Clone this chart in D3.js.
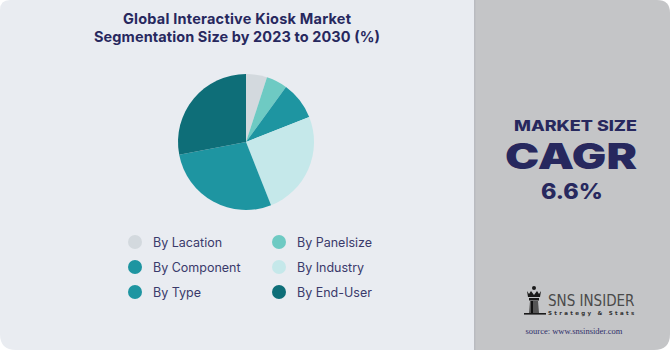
<!DOCTYPE html>
<html><head><meta charset="utf-8">
<script src="https://cdn.jsdelivr.net/npm/d3@7"></script>
<style>html,body{margin:0;padding:0;background:#fff;}svg{display:block;}</style>
</head><body>
<script>
const categories = ["By Lacation","By Panelsize","By Component","By Industry","By Type","By End-User"];
const values = [5, 5, 9, 25, 28, 28];
const colors = ["#d3d9de","#6ecac3","#1e95a1","#c5e8ea","#1e95a1","#0e6e78"];
const titleLines = ["Global Interactive Kiosk Market","Segmentation Size by 2023 to 2030 (%)"];
const cagrLabel = ["MARKET SIZE","CAGR","6.6%"];

const W=670,H=350;
const svg=d3.select("body").append("svg").attr("width",W).attr("height",H);
const navy="#27285e";

// left panel
svg.append("path").attr("fill","#e9ecf1")
  .attr("d",`M0,10 Q0,0 10,0 L480,0 L480,${H} L16,${H} Q0,${H} 0,${H-16} Z`);
// right panel
svg.append("path").attr("fill","#c4c5c7")
  .attr("d",`M474,0 L657,0 Q670,0 670,13 L670,${H-16} Q670,${H} 654,${H} L474,${H} Z`);
svg.append("rect").attr("x",474).attr("y",0).attr("width",1.5).attr("height",H).attr("fill","#b9bbc0");

// title
const t=svg.append("text").attr("text-anchor","middle").attr("fill",navy)
  .style("font-family","Inter, Lato, sans-serif").style("font-weight","700").style("font-size","14.5px");
const tl=[228,286];
titleLines.forEach((l,i)=>t.append("tspan").attr("x",237).attr("y",24+i*17.5)
  .attr("textLength",tl[i]).attr("lengthAdjust","spacing").text(l));

// pie
const cx=246,cy=142,r=68;
const pie=d3.pie().sort(null).value(d=>d)(values);
const arc=d3.arc().innerRadius(0).outerRadius(r);
svg.append("g").attr("transform",`translate(${cx},${cy})`)
  .selectAll("path").data(pie).join("path")
  .attr("d",arc).attr("fill",(d,i)=>colors[i]);

// legend
const lg=svg.append("g");
categories.forEach((c,i)=>{
  const col=i%2,row=Math.floor(i/2);
  const x=135+col*144,y=242+row*25;
  lg.append("circle").attr("cx",x).attr("cy",y).attr("r",7).attr("fill",colors[i]);
  lg.append("text").attr("x",x+18).attr("y",y+4.5).attr("fill","#3a3a6b")
    .style("font-family","Inter, Lato, sans-serif").style("font-size","12.5px").text(c);
});

// right panel text
const rt=svg.append("g").attr("fill",navy).attr("text-anchor","middle")
  .style("font-family","Inter, Lato, sans-serif").style("font-weight","800");
rt.append("text").attr("x",575.5).attr("y",131).style("font-size","14px")
  .attr("textLength",123).attr("lengthAdjust","spacingAndGlyphs").text(cagrLabel[0]);
rt.append("text").attr("x",571).attr("y",169).style("font-size","35px").style("font-weight","900")
  .attr("textLength",132).attr("lengthAdjust","spacingAndGlyphs").text(cagrLabel[1]);
rt.append("text").attr("x",572).attr("y",199).style("font-size","21px")
  .attr("textLength",62).attr("lengthAdjust","spacingAndGlyphs").text(cagrLabel[2]);

// logo
const lo=svg.append("g").attr("fill","#1a1a1a");
lo.append("circle").attr("cx",534).attr("cy",288).attr("r",2);
lo.append("path").attr("d","M527,291 L529,294 L531,291 L534,295 L537,291 L539,294 L541,291 L540,297 L528,297 Z");
lo.append("rect").attr("x",529).attr("y",298).attr("width",10).attr("height",2.5);
lo.append("path").attr("d","M530,301 L538,301 L539,313 L529,313 Z").attr("fill","#555");
lo.append("rect").attr("x",531).attr("y",301).attr("width",2).attr("height",12).attr("fill","#111");
lo.append("rect").attr("x",524).attr("y",313).attr("width",22).attr("height",1.6);
svg.append("text").attr("x",548).attr("y",306).attr("fill","#4a4a4a")
  .style("font-family","'Liberation Sans Narrow','DejaVu Sans Condensed',Arial,sans-serif").style("font-size","15px")
  .style("font-weight","400").text("SNS INSIDER");
svg.append("text").attr("x",548).attr("y",315).attr("fill","#333")
  .style("font-family","DejaVu Sans, sans-serif").style("font-size","5.5px").style("letter-spacing","2.3px").style("font-weight","700")
  .text("Strategy & Stats");
svg.append("text").attr("x",574).attr("y",334).attr("text-anchor","middle").attr("fill","#2f2f6a")
  .style("font-family","'Liberation Serif','DejaVu Serif',serif").style("font-size","8.5px")
  .text("source: www.snsinsider.com");
</script>
</body></html>
